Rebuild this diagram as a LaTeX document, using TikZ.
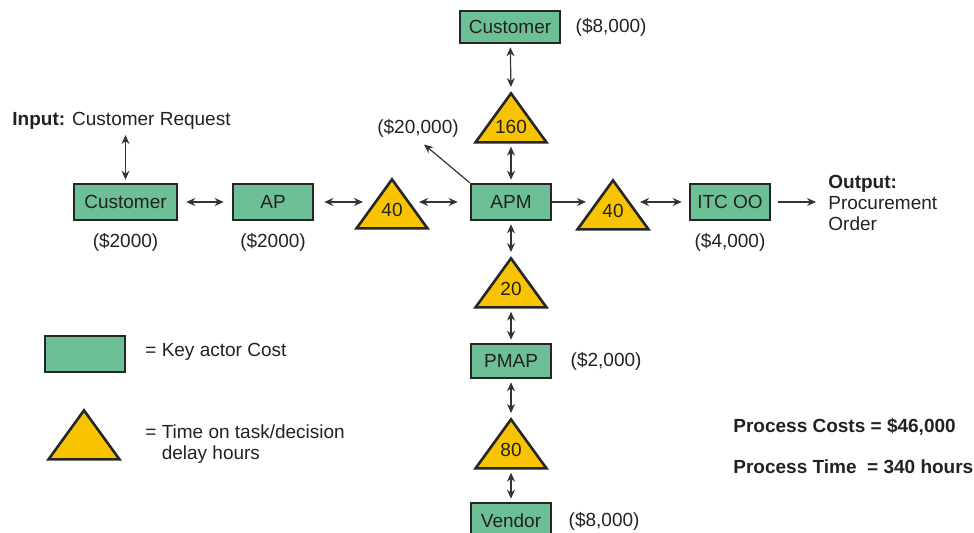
\documentclass[tikz,border=0pt]{standalone}
\usepackage{fontspec}
\setmainfont{Liberation Sans}
\usetikzlibrary{positioning,shapes.geometric,arrows.meta}
\definecolor{actorGreen}{HTML}{6DBF95}
\definecolor{delayYellow}{HTML}{F8C300}
\definecolor{textGray}{HTML}{222222}
\newcommand{\chartFont}{\fontsize{9.5}{10.5}\selectfont}
\tikzstyle{chart} = [x=.5pt, y=-.5pt, every node/.style={font=\chartFont, text=textGray, inner sep=1pt}]
\tikzstyle{actor} = [draw=black!85, fill=actorGreen, line width=1.3pt, minimum width=40pt, minimum height=18pt, inner sep=0pt]
\tikzstyle{delay} = [isosceles triangle, isosceles triangle stretches, shape border rotate=90, draw=black!85, fill=delayYellow, line width=1.3pt, minimum width=35.5pt, minimum height=24.5pt, inner sep=0pt, text height=1.5pt, text depth=0pt]
\tikzstyle{link} = [{Stealth[length=4.5pt,width=4pt]}-{Stealth[length=4.5pt,width=4pt]}, line width=.6pt, black!80, shorten <=1.5pt, shorten >=1.5pt]
\tikzstyle{oneway} = [-{Stealth[length=4.5pt,width=4pt]}, line width=.6pt, black!80]
\begin{document}
\begin{tikzpicture}[chart]
  \clip (0,0) rectangle (974,533);
  % main line
  \node[actor, minimum width=51.5pt] (custIn) at (125.5,202) {Customer};
  \node[actor] (ap) at (273,202) {AP};
  \node[delay, anchor=apex] (delayAp) at (392,176) {40};
  \node[actor] (apm) at (511,202) {APM};
  \node[delay, anchor=apex] (delayOo) at (613,177) {40};
  \node[actor] (itc) at (730,202) {ITC OO};
  \node[anchor=west, align=left] (output) at (826,203) {\textbf{Output:}\\Procurement\\Order};
  \node[anchor=west] (input) at (10,121) {\textbf{Input:} Customer Request};
  % vertical line
  \node[actor, minimum width=50pt, minimum height=16pt] (custTop) at (510,27) {Customer};
  \node[delay, anchor=apex] (delayTop) at (511,90) {160};
  \node[delay, anchor=apex] (delayPm) at (511,255) {20};
  \node[actor, minimum height=17pt] (pmap) at (511,361) {PMAP};
  \node[delay, anchor=apex] (delayVen) at (511,416) {80};
  \node[actor] (vendor) at (511,521) {Vendor};
  % costs
  \node[right=6pt of custTop] (costTop) {(\$8,000)};
  \node[right=8pt of pmap] (costPm) {(\$2,000)};
  \node[right=7pt of vendor] (costVen) {(\$8,000)};
  \node[below=5pt of custIn] (costCust) {(\$2000)};
  \node[below=5pt of ap] (costAp) {(\$2000)};
  \node[below=5pt of itc] (costOo) {(\$4,000)};
  \node (costApm) at (418,128) {(\$20,000)};
  % connectors
  \draw[link] (input.south -| custIn.north) -- (custIn.north);
  \draw[link, shorten <=4pt, shorten >=4pt] (custIn) -- (ap);
  \draw[link, shorten <=5pt, shorten >=5pt] (ap.east) -- (ap.east -| delayAp.left side);
  \draw[link, shorten <=4pt, shorten >=6pt] (apm.west -| delayAp.right side) -- (apm.west);
  \draw[oneway, shorten >=4pt] (apm.east) -- (apm.east -| delayOo.left side);
  \draw[link, shorten <=4pt, shorten >=3.5pt] (itc.west -| delayOo.right side) -- (itc.west);
  \draw[oneway, shorten <=3.5pt, shorten >=5pt] (itc.east) -- (itc.east -| output.west);
  \draw[oneway, shorten >=4pt] (apm.north west) -- (costApm.south);
  \draw[link] (custTop) -- (delayTop.apex);
  \draw[link] (delayTop.lower side) -- (apm);
  \draw[link] (apm) -- (delayPm.apex);
  \draw[link] (delayPm.lower side) -- (pmap);
  \draw[link] (pmap) -- (delayVen.apex);
  \draw[link] (delayVen.lower side) -- (vendor);
  % legend
  \node[actor] (keyActor) at (85,354) {};
  \node[anchor=west] (keyActorText) at (143,352) {= Key actor Cost};
  \node[delay, anchor=apex] (keyDelay) at (84,407) {};
  \node[anchor=north west, align=left] (keyDelayText) at (143,422) {= Time on task/decision\\\phantom{= }delay hours};
  % totals
  \node[anchor=west, font=\chartFont\bfseries] (totalCost) at (731,427) {Process Costs = \$46,000};
  \node[anchor=west, font=\chartFont\bfseries] (totalTime) at (731,467) {Process Time~ = 340 hours};
\end{tikzpicture}
\end{document}
